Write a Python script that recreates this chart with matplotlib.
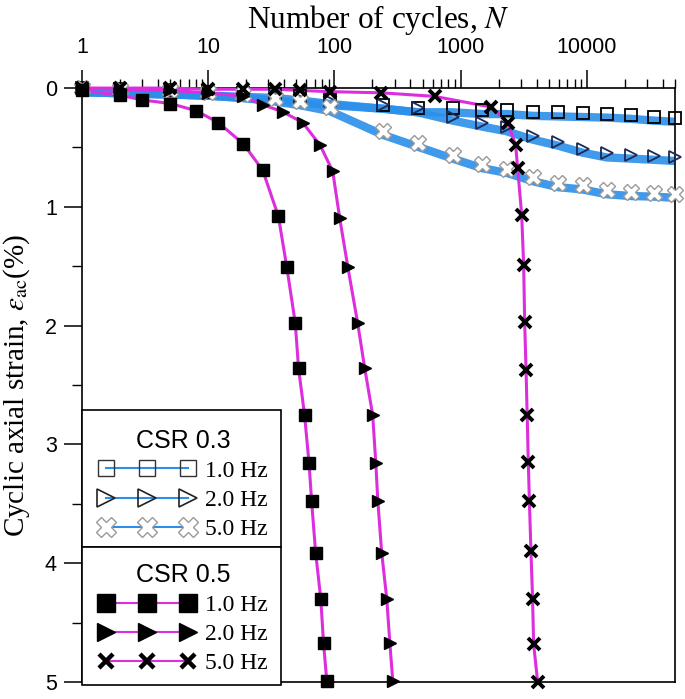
import numpy as np
import matplotlib
matplotlib.use("Agg")
import matplotlib.pyplot as plt
import matplotlib.transforms as mtransforms
from matplotlib.lines import Line2D
from matplotlib.patches import Rectangle

plt.rcParams['font.family'] = ['Liberation Sans', 'DejaVu Sans']
plt.rcParams['mathtext.fontset'] = 'stix'

blue = '#2B8FEA'
magenta = '#DC2EDC'
grey = '#9A9A9A'

# CSR 0.3 (open markers, blue lines)
cycles_03 = [1, 2, 5, 10, 19, 34, 53, 92, 242, 457, 865, 1468, 2317, 3724,
             5870, 9260, 14350, 22230, 33800, 49600]
strain_03_1hz = [0, 0.01, 0.02, 0.03, 0.04, 0.05, 0.07, 0.10, 0.14, 0.17, 0.17,
                 0.185, 0.185, 0.20, 0.205, 0.21, 0.215, 0.225, 0.24, 0.25]
strain_03_2hz = [0, 0.01, 0.02, 0.03, 0.05, 0.07, 0.09, 0.11, 0.14, 0.17, 0.24,
                 0.29, 0.33, 0.40, 0.45, 0.51, 0.55, 0.56, 0.57, 0.58]
strain_03_5hz = [0, 0.01, 0.02, 0.03, 0.05, 0.08, 0.11, 0.16, 0.36, 0.46, 0.56,
                 0.64, 0.68, 0.75, 0.80, 0.82, 0.86, 0.875, 0.88, 0.89]

# CSR 0.5 (filled markers, magenta lines)
cycles_05_1hz = [1, 2, 3, 5, 8, 12, 19, 27, 36, 42, 49, 52, 58, 63, 66, 71, 78, 82, 87]
strain_05_1hz = [0.02, 0.06, 0.10, 0.13, 0.19, 0.29, 0.47, 0.69, 1.08, 1.51, 1.98,
                 2.36, 2.75, 3.16, 3.48, 3.91, 4.30, 4.67, 4.99]
cycles_05_2hz = [1, 2, 5, 10, 19, 27, 39, 56, 77, 97, 110, 128, 153, 174, 201, 213,
                 221, 237, 260, 275, 290]
strain_05_2hz = [0, 0.01, 0.02, 0.04, 0.07, 0.14, 0.20, 0.29, 0.48, 0.70, 1.09,
                 1.51, 1.98, 2.36, 2.75, 3.16, 3.48, 3.91, 4.30, 4.67, 4.99]
cycles_05_5hz = [1, 2, 5, 10, 19, 34, 53, 92, 236, 624, 1750, 2360, 2730, 2830,
                 3050, 3160, 3220, 3300, 3370, 3440, 3510, 3610, 3720, 3790, 4080]
strain_05_5hz = [0, 0, 0, 0.01, 0.01, 0.01, 0.02, 0.03, 0.04, 0.07, 0.16, 0.29,
                 0.48, 0.67, 1.07, 1.49, 1.97, 2.37, 2.75, 3.15, 3.48, 3.90, 4.30,
                 4.68, 5.0]

fig = plt.figure(figsize=(6.85, 6.99), dpi=100)
ax = fig.add_axes([0.1197, 0.0243, 0.8657, 0.8497])

# blue bands of CSR 0.3 (dense cyclic data), drawn a bit below the markers
band = mtransforms.offset_copy(ax.transData, fig=fig, x=0, y=-4, units='dots')
for s in [strain_03_1hz, strain_03_2hz, strain_03_5hz]:
    ax.plot(cycles_03, s, color=blue, lw=6, alpha=0.9, transform=band,
            solid_capstyle='butt', zorder=2)

# magenta lines of CSR 0.5
ax.plot(cycles_05_1hz, strain_05_1hz, color=magenta, lw=2.2, zorder=3, clip_on=False)
ax.plot(cycles_05_2hz, strain_05_2hz, color=magenta, lw=2.2, zorder=3, clip_on=False)
ax.plot(cycles_05_5hz, strain_05_5hz, color=magenta, lw=2.2, zorder=3, clip_on=False)

# markers
ax.plot(cycles_03, strain_03_1hz, ls='none', marker='s', ms=8, mfc='none',
        mec='black', mew=1.3, zorder=5, clip_on=False)
ax.plot(cycles_03, strain_03_2hz, ls='none', marker='>', ms=9, mfc='none',
        mec='#1C2A55', mew=1.3, zorder=5, clip_on=False)
ax.plot(cycles_03, strain_03_5hz, ls='none', marker='X', ms=11, mfc='white',
        mec=grey, mew=1.0, zorder=5, clip_on=False)
ax.plot(cycles_05_1hz, strain_05_1hz, ls='none', marker='s', ms=9, mfc='black',
        mec='black', zorder=6, clip_on=False)
ax.plot(cycles_05_2hz, strain_05_2hz, ls='none', marker='>', ms=8, mfc='black',
        mec='black', zorder=6, clip_on=False)
ax.plot(cycles_05_5hz, strain_05_5hz, ls='none', marker='x', ms=8, mec='black',
        mew=2.8, zorder=6, clip_on=False)

ax.set_xscale('log')
ax.set_xlim(1, 50000)
ax.set_ylim(5, 0)
ax.xaxis.set_ticks_position('top')
ax.xaxis.set_label_position('top')
ax.set_xticks([1, 10, 100, 1000, 10000])
ax.set_xticklabels(['1', '10', '100', '1000', '10000'])
ax.set_yticks([0, 1, 2, 3, 4, 5])
ax.set_yticks(np.arange(0.5, 5, 1), minor=True)
ax.tick_params(axis='x', which='major', direction='out', length=13, width=1.1,
               labelsize=15.5, pad=9)
ax.tick_params(axis='x', which='minor', direction='out', length=6.5, width=1.0)
ax.tick_params(axis='y', which='major', direction='out', length=13, width=1.1,
               labelsize=15.5, pad=5)
ax.tick_params(axis='y', which='minor', direction='out', length=7, width=1.0)
for sp in ax.spines.values():
    sp.set_linewidth(1.2)

ax.set_xlabel('Number of cycles, $N$', family='Liberation Serif', fontsize=22.5,
              labelpad=6)
ax.set_ylabel(r'Cyclic axial strain, $\varepsilon_{\mathrm{ac}}$(%)',
              family='Liberation Serif', fontsize=21, labelpad=9)

# legend boxes
for y0, h in [(0.227, 0.231), (-0.005, 0.232)]:
    ax.add_patch(Rectangle((0, y0), 0.336, h, transform=ax.transAxes,
                           facecolor='white', edgecolor='black', lw=1.2,
                           zorder=9, clip_on=False))

# legends
h03 = [Line2D([], [], color=blue, lw=1.5, marker='s', ms=12, mfc='none', mec='#333333', mew=1.0),
       Line2D([], [], color=blue, lw=1.5, marker='>', ms=13, mfc='none', mec='#222222', mew=1.2),
       Line2D([], [], color=blue, lw=1.5, marker='X', ms=14, mfc='white', mec=grey, mew=1.0)]
h05 = [Line2D([], [], color=magenta, lw=1.5, marker='s', ms=12.5, mfc='black', mec='black'),
       Line2D([], [], color=magenta, lw=1.5, marker='>', ms=13, mfc='black', mec='black'),
       Line2D([], [], color=magenta, lw=1.5, marker='x', ms=10.5, mec='black', mew=3.2)]
labels = ['1.0 Hz', '2.0 Hz', '5.0 Hz']
leg_kw = dict(numpoints=3, handlelength=4.1, handletextpad=0.4, labelspacing=0.32,
              borderpad=0.45, borderaxespad=0, frameon=False,
              prop={'family': 'Liberation Serif', 'size': 17},
              title_fontproperties={'family': 'Liberation Sans', 'size': 18})
leg1 = ax.legend(h03, labels, title='CSR 0.3', loc='upper left',
                 bbox_to_anchor=(0.01, 0.4445), **leg_kw)
leg2 = ax.legend(h05, labels, title='CSR 0.5', loc='upper left',
                 bbox_to_anchor=(0.01, 0.2186), **leg_kw)
ax.add_artist(leg1)
for lg in (leg1, leg2):
    lg.set_zorder(10)

fig.savefig('out.png', dpi=100)
